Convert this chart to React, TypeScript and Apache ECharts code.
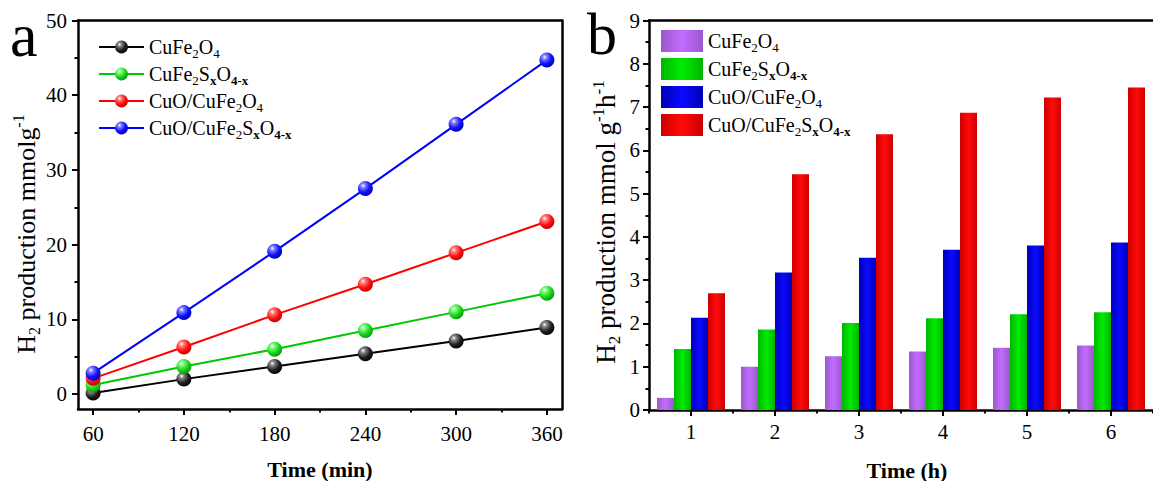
import React, { useEffect, useRef } from "react";
import * as echarts from "echarts";

const FONT = '"Liberation Serif", "Times New Roman", serif';

// Panel a: line chart
const timeMin = [60, 120, 180, 240, 300, 360];
const lineNames = ["CuFe2O4", "CuFe2SxO4-x", "CuO/CuFe2O4", "CuO/CuFe2SxO4-x"];
const lineCuFe2O4 = [0.13, 2.0, 3.7, 5.4, 7.1, 8.9];
const lineCuFe2SxO4x = [1.2, 3.7, 6.0, 8.5, 11.0, 13.5];
const lineCuOCuFe2O4 = [2.1, 6.3, 10.6, 14.7, 18.9, 23.1];
const lineCuOCuFe2SxO4x = [2.8, 10.9, 19.1, 27.5, 36.1, 44.7];
const xMajorTicks = [60, 120, 180, 240, 300, 360];
const xMinorTicks = [90, 150, 210, 270, 330];
const yMajorTicks = [0, 10, 20, 30, 40, 50];
const yMinorTicks = [5, 15, 25, 35, 45];

// Panel b: bar chart
const timeH = ["1", "2", "3", "4", "5", "6"];
const barCuFe2O4 = [0.28, 1.0, 1.24, 1.35, 1.44, 1.49];
const barCuFe2SxO4x = [1.41, 1.86, 2.01, 2.12, 2.21, 2.26];
const barCuOCuFe2O4 = [2.13, 3.18, 3.52, 3.7, 3.8, 3.87];
const barCuOCuFe2SxO4x = [2.7, 5.45, 6.37, 6.87, 7.22, 7.45];

const richName: Record<string, string> = {
  "CuFe2O4": "{n|CuFe}{s|2}{n|O}{s|4}",
  "CuFe2SxO4-x": "{n|CuFe}{s|2}{n|S}{sb|x}{n|O}{sb|4-x}",
  "CuO/CuFe2O4": "{n|CuO/CuFe}{s|2}{n|O}{s|4}",
  "CuO/CuFe2SxO4-x": "{n|CuO/CuFe}{s|2}{n|S}{sb|x}{n|O}{sb|4-x}",
};

const legendRich = {
  n: { fontFamily: FONT, fontSize: 20, color: "#000", lineHeight: 26 },
  s: { fontFamily: FONT, fontSize: 13, color: "#000", lineHeight: 14, verticalAlign: "bottom" },
  sb: { fontFamily: FONT, fontSize: 13, fontWeight: "bold", color: "#000", lineHeight: 14, verticalAlign: "bottom" },
};

const titleRichL = {
  t: { fontFamily: FONT, fontSize: 26, color: "#000", lineHeight: 32 },
  ts: { fontFamily: FONT, fontSize: 16, color: "#000", lineHeight: 17, verticalAlign: "bottom" },
  tp: { fontFamily: FONT, fontSize: 16, color: "#000", lineHeight: 17, verticalAlign: "top" },
};
const titleRichR = {
  t: { fontFamily: FONT, fontSize: 27, color: "#000", lineHeight: 33 },
  ts: { fontFamily: FONT, fontSize: 17, color: "#000", lineHeight: 18, verticalAlign: "bottom" },
  tp: { fontFamily: FONT, fontSize: 17, color: "#000", lineHeight: 18, verticalAlign: "top" },
};

function sphere(light: string, mid: string, dark: string) {
  return new echarts.graphic.RadialGradient(0.35, 0.3, 0.75, [
    { offset: 0, color: "#ffffff" },
    { offset: 0.2, color: light },
    { offset: 0.6, color: mid },
    { offset: 1, color: dark },
  ]);
}

function barGrad(edge: string, center: string) {
  return new echarts.graphic.LinearGradient(0, 0, 1, 0, [
    { offset: 0, color: edge },
    { offset: 0.5, color: center },
    { offset: 1, color: edge },
  ]);
}

export default function App() {
  const ref = useRef<HTMLDivElement>(null);
  useEffect(() => {
    if (!ref.current) return;
    const chart = echarts.init(ref.current, undefined, { renderer: "svg" });
    const axisLine = { show: true, onZero: false, lineStyle: { color: "#000", width: 2.5 } };
    const labelStyle = { fontFamily: FONT, fontSize: 21, color: "#000" };
    const lineColors = ["#000000", "#00c800", "#ff0000", "#0000ff"];
    const sphereColors = [
      sphere("#888888", "#222222", "#000000"),
      sphere("#7dff7d", "#1fd21f", "#009900"),
      sphere("#ff8080", "#ff1010", "#c00000"),
      sphere("#8080ff", "#1010ff", "#0000b0"),
    ];
    const lineData = [lineCuFe2O4, lineCuFe2SxO4x, lineCuOCuFe2O4, lineCuOCuFe2SxO4x];
    const barData = [barCuFe2O4, barCuFe2SxO4x, barCuOCuFe2O4, barCuOCuFe2SxO4x];
    const barColors = [
      barGrad("#9a58cc", "#c26cff"),
      barGrad("#00b400", "#00ec00"),
      barGrad("#0000b4", "#0a0aff"),
      barGrad("#cc0000", "#ff0a0a"),
    ];

    const option: any = {
      animation: false,
      backgroundColor: "#fff",
      grid: [
        { left: 78, top: 20.5, width: 484, height: 388.5 },
        { left: 649, top: 20.5, width: 516, height: 389.5 },
      ],
      legend: [
        {
          orient: "vertical",
          left: 93,
          top: 32,
          itemWidth: 45,
          itemHeight: 16,
          itemGap: 4,
          data: lineNames,
          formatter: (n: string) => richName[n],
          textStyle: { rich: legendRich, fontFamily: FONT, fontSize: 20, color: "#000" },
        },
        {
          orient: "vertical",
          left: 656,
          top: 25,
          itemWidth: 42,
          itemHeight: 22,
          itemGap: 4,
          icon: "rect",
          data: lineNames.map((n) => n + " "),
          formatter: (n: string) => richName[n.trim()],
          textStyle: { rich: legendRich, fontFamily: FONT, fontSize: 20, color: "#000" },
        },
      ],
      xAxis: [
        {
          type: "value", gridIndex: 0, position: "bottom", min: 50, max: 370,
          axisLine,
          splitLine: { show: false },
          axisTick: { show: true, customValues: xMajorTicks, length: 6, lineStyle: { color: "#000", width: 2 } },
          axisLabel: { show: true, customValues: xMajorTicks, margin: 14, ...labelStyle },
        },
        {
          type: "value", gridIndex: 0, position: "bottom", min: 50, max: 370,
          axisLine: { show: false, onZero: false },
          splitLine: { show: false },
          axisTick: { show: true, customValues: xMinorTicks, length: 3.5, lineStyle: { color: "#000", width: 2 } },
          axisLabel: { show: false },
        },
        {
          type: "value", gridIndex: 0, position: "top", min: 50, max: 370,
          axisLine, splitLine: { show: false }, axisTick: { show: false }, axisLabel: { show: false },
        },
        {
          type: "category", gridIndex: 1, position: "bottom", data: timeH,
          axisLine,
          axisTick: { show: true, alignWithLabel: true, length: 6, lineStyle: { color: "#000", width: 2 } },
          axisLabel: { show: true, margin: 11, ...labelStyle },
        },
        {
          type: "category", gridIndex: 1, position: "bottom", data: timeH,
          axisLine: { show: false, onZero: false },
          axisTick: { show: true, alignWithLabel: false, interval: 0, length: 3.5, lineStyle: { color: "#000", width: 2 } },
          axisLabel: { show: false },
        },
        {
          type: "category", gridIndex: 1, position: "top", data: timeH,
          axisLine, axisTick: { show: false }, axisLabel: { show: false },
        },
      ],
      yAxis: [
        {
          type: "value", gridIndex: 0, position: "left", min: -2, max: 50,
          axisLine, splitLine: { show: false },
          axisTick: { show: true, customValues: yMajorTicks, length: 6, lineStyle: { color: "#000", width: 2 } },
          axisLabel: { show: true, customValues: yMajorTicks, margin: 11, ...labelStyle },
        },
        {
          type: "value", gridIndex: 0, position: "left", min: -2, max: 50,
          axisLine: { show: false, onZero: false }, splitLine: { show: false },
          axisTick: { show: true, customValues: yMinorTicks, length: 3.5, lineStyle: { color: "#000", width: 2 } },
          axisLabel: { show: false },
        },
        {
          type: "value", gridIndex: 0, position: "right", min: -2, max: 50,
          axisLine, splitLine: { show: false }, axisTick: { show: false }, axisLabel: { show: false },
        },
        {
          type: "value", gridIndex: 1, position: "left", min: 0, max: 9, interval: 1,
          axisLine, splitLine: { show: false },
          axisTick: { show: true, length: 6, lineStyle: { color: "#000", width: 2 } },
          minorTick: { show: true, splitNumber: 2, length: 3.5, lineStyle: { color: "#000", width: 2 } },
          minorSplitLine: { show: false },
          axisLabel: { show: true, margin: 9, ...labelStyle },
        },
      ],
      series: [
        ...lineNames.map((name, i) => ({
          type: "line",
          name,
          xAxisIndex: 0,
          yAxisIndex: 0,
          data: timeMin.map((t, j) => [t, lineData[i][j]]),
          symbol: "circle",
          symbolSize: 15,
          lineStyle: { color: lineColors[i], width: 2 },
          itemStyle: { color: sphereColors[i], borderWidth: 0 },
          z: 2 + i,
        })),
        ...lineNames.map((name, i) => ({
          type: "bar",
          name: name + " ",
          xAxisIndex: 3,
          yAxisIndex: 3,
          data: barData[i],
          barWidth: 17,
          barGap: "0%",
          itemStyle: { color: barColors[i] },
        })),
      ],
      graphic: [
        { type: "text", left: 10, top: 4, style: { text: "a", font: `62px ${FONT}`, fill: "#000" } },
        { type: "text", left: 587, top: 4, style: { text: "b", font: `60px ${FONT}`, fill: "#000" } },
        {
          type: "text", x: 26, y: 234, rotation: Math.PI / 2,
          style: { text: "{t|H}{ts|2}{t| production mmolg}{tp|-1}", rich: titleRichL, align: "center", verticalAlign: "middle" },
        },
        {
          type: "text", x: 606, y: 222, rotation: Math.PI / 2,
          style: { text: "{t|H}{ts|2}{t| production mmol g}{tp|-1}{t|h}{tp|-1}", rich: titleRichR, align: "center", verticalAlign: "middle" },
        },
        {
          type: "text", x: 320, y: 469,
          style: { text: "Time (min)", font: `bold 22px ${FONT}`, fill: "#000", align: "center", verticalAlign: "middle" },
        },
        {
          type: "text", x: 907, y: 470,
          style: { text: "Time (h)", font: `bold 22px ${FONT}`, fill: "#000", align: "center", verticalAlign: "middle" },
        },
      ],
    };
    chart.setOption(option);
    return () => chart.dispose();
  }, []);
  return (
    <div
      ref={ref}
      style={{ position: "absolute", left: 0, top: 0, width: 1153, height: 481, overflow: "hidden", background: "#fff" }}
    />
  );
}
